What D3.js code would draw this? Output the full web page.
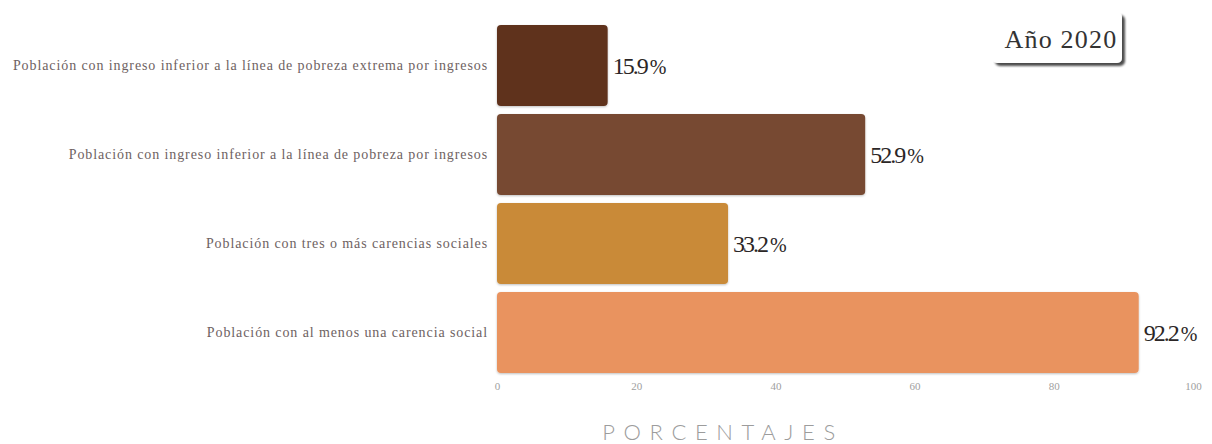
<!DOCTYPE html>
<html><head><meta charset="utf-8">
<script src="https://cdn.jsdelivr.net/npm/d3@7"></script>
<style>body{margin:0;background:#fff}svg{display:block}</style>
</head><body>
<svg id="c" width="1212" height="444"></svg>
<script>
const categories = [
  "Población con ingreso inferior a la línea de pobreza extrema por ingresos",
  "Población con ingreso inferior a la línea de pobreza por ingresos",
  "Población con tres o más carencias sociales",
  "Población con al menos una carencia social"
];
const values = [15.9, 52.9, 33.2, 92.2];
const colors = ["#5e321c", "#774a33", "#c98a37", "#e9935f"];
const ticks = [0, 20, 40, 60, 80, 100];
const yearLabel = "Año 2020";
const axisTitle = "PORCENTAJES";

const svg = d3.select("#c");
const x = d3.scaleLinear().domain([0, 100]).range([497, 1193]);
const y = d3.scaleBand().domain(categories).range([21, 377]).paddingInner(0.09).paddingOuter(0.045);

const defs = svg.append("defs");
const f = defs.append("filter").attr("id","sh").attr("x","-10%").attr("y","-10%").attr("width","120%").attr("height","130%");
f.append("feDropShadow").attr("dx",0).attr("dy",1).attr("stdDeviation",1.2).attr("flood-color","#000").attr("flood-opacity",0.25);
const f2 = defs.append("filter").attr("id","bx").attr("x","-20%").attr("y","-30%").attr("width","140%").attr("height","160%");
f2.append("feDropShadow").attr("dx",3).attr("dy",3).attr("stdDeviation",1.3).attr("flood-color","#000").attr("flood-opacity",0.7);

// bars
svg.append("g").selectAll("rect").data(values).join("rect")
  .attr("x", x(0))
  .attr("y", (d,i) => y(categories[i]))
  .attr("width", d => x(d) - x(0))
  .attr("height", y.bandwidth())
  .attr("rx", 4)
  .attr("fill", (d,i) => colors[i])
  .attr("filter","url(#sh)");

// category labels
svg.append("g").selectAll("text").data(categories).join("text")
  .attr("x", 488)
  .attr("y", d => y(d) + y.bandwidth()/2)
  .attr("dy", "0.35em")
  .attr("text-anchor", "end")
  .style("font-family", "'Liberation Serif', 'DejaVu Serif', serif")
  .attr("font-size", 14)
  .attr("letter-spacing", 0.9)
  .attr("fill", "#6e6262")
  .text(d => d);

// value labels
const vg = svg.append("g").selectAll("text").data(values).join("text")
  .attr("x", d => x(d) + 5)
  .attr("y", (d,i) => y(categories[i]) + y.bandwidth()/2)
  .attr("dy", "0.35em")
  .style("font-family", "'Liberation Serif', serif")
  .attr("font-size", 24)
  .attr("letter-spacing", -2)
  .attr("fill", "#2b2626");
vg.append("tspan").text(d => d.toFixed(1));
vg.append("tspan").attr("font-size", 20).attr("letter-spacing", 0).attr("dx", 3).text("%");

// x axis tick labels
const ax = svg.append("g").attr("transform", "translate(0,382)")
  .call(d3.axisBottom(x).tickValues(ticks).tickSize(0).tickPadding(0));
ax.select(".domain").remove();
ax.selectAll("text").style("font-family", "'Liberation Serif', serif").attr("font-size", 11).attr("fill", "#a0a0a0");

// axis title
svg.append("text")
  .attr("x", 723).attr("y", 440)
  .attr("text-anchor", "middle")
  .style("font-family", "Lato, sans-serif")
  .attr("font-weight", 300)
  .attr("font-size", 22)
  .attr("letter-spacing", 8.6)
  .attr("fill", "#9c9c9c")
  .text(axisTitle);

// year box
const bx = svg.append("g");
bx.append("rect").attr("x", 992).attr("y", 12).attr("width", 130).attr("height", 51)
  .attr("rx", 5).attr("fill", "#fff").attr("filter","url(#bx)");
bx.append("text").attr("x", 1061).attr("y", 39).attr("dy","0.35em").attr("text-anchor","middle")
  .style("font-family","'Liberation Serif', serif").attr("font-size", 26).attr("letter-spacing", 1.2).attr("fill","#333")
  .text(yearLabel);
</script>
</body></html>
